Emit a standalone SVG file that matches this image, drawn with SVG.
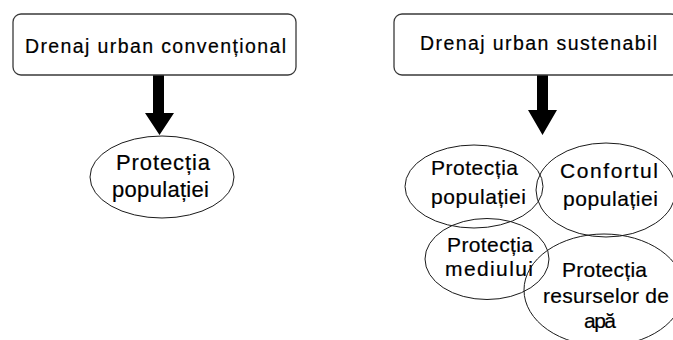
<svg xmlns="http://www.w3.org/2000/svg" width="673" height="340" viewBox="0 0 673 340">
<style>
text{font-family:"Liberation Sans",Arial,sans-serif;fill:#000;stroke:#000;stroke-width:0.2}
.hd{font-size:19.5px}
.bd{font-size:21px}
.bl{font-size:22px}
.box{fill:#fff;stroke:#3a3a3a;stroke-width:1.3}
.ell{fill:none;stroke:#1a1a1a;stroke-width:1}
.arr{fill:#000}
</style>
<rect x="0" y="0" width="673" height="340" fill="#fff"/>
<g id="connectors">
<polygon class="arr" points="153,75 164,75 164,113 174,113 159.5,135 145,113 153,113"/>
<polygon class="arr" points="537,75 548,75 548,110 557,110 542.5,135 528,110 537,110"/>
</g>
<g id="node-conventional">
<rect class="box" x="13" y="14" width="283" height="61" rx="8"/>
<text class="hd" x="25" y="53" textLength="261" lengthAdjust="spacing">Drenaj urban convențional</text>
</g>
<g id="node-sustenabil">
<rect class="box" x="394" y="14" width="285" height="61" rx="8"/>
<text class="hd" x="420" y="50" textLength="237" lengthAdjust="spacing">Drenaj urban sustenabil</text>
</g>
<g id="node-protectia-pop-left">
<ellipse class="ell" cx="162" cy="177" rx="72" ry="41"/>
<text class="bl" x="116" y="170" textLength="94" lengthAdjust="spacing">Protecția</text>
<text class="bl" x="112" y="197" textLength="97" lengthAdjust="spacing">populației</text>
</g>
<g id="node-protectia-pop">
<ellipse class="ell" cx="474" cy="186.5" rx="69" ry="41.5"/>
<text class="bd" x="431" y="175" textLength="87" lengthAdjust="spacing">Protecția</text>
<text class="bd" x="431" y="204" textLength="95" lengthAdjust="spacing">populației</text>
</g>
<g id="node-confort">
<ellipse class="ell" cx="606" cy="190" rx="70" ry="47"/>
<text class="bd" x="560" y="178" textLength="98" lengthAdjust="spacing">Confortul</text>
<text class="bd" x="563" y="206" textLength="95" lengthAdjust="spacing">populației</text>
</g>
<g id="node-mediu">
<ellipse class="ell" cx="487" cy="259" rx="62" ry="40.5"/>
<text class="bd" x="447" y="252" textLength="86" lengthAdjust="spacing">Protecția</text>
<text class="bd" x="445" y="276" textLength="88" lengthAdjust="spacing">mediului</text>
</g>
<g id="node-resurse">
<ellipse class="ell" cx="604" cy="290" rx="80" ry="56"/>
<text class="bd" x="562" y="277" textLength="85" lengthAdjust="spacing">Protecția</text>
<text class="bd" x="543" y="303" textLength="126" lengthAdjust="spacing">resurselor de</text>
<text class="bd" x="584" y="328" textLength="32" lengthAdjust="spacing">apă</text>
</g>
</svg>
